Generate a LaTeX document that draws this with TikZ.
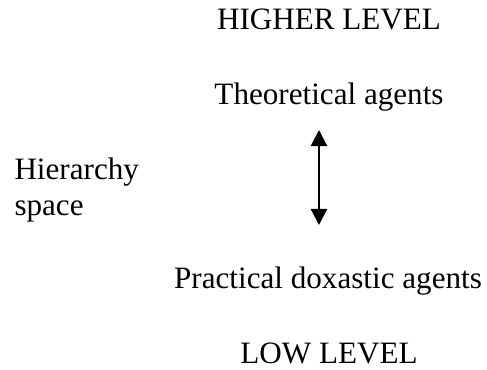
\documentclass[tikz,border=0pt]{standalone}
\usepackage{fontspec}
\setmainfont{Liberation Serif}
\usetikzlibrary{arrows.meta}

\begin{document}
\begin{tikzpicture}[scale=0.14, font=\fontsize{12.4}{14.7}\selectfont, every node/.style={inner sep=0pt}]

\useasboundingbox (0,0) rectangle (48.7,37);

% Level labels
\node[anchor=base] (high) at (32.9,34.0) {HIGHER LEVEL};
\node[anchor=base] (low) at (32.9,0.6) {LOW LEVEL};

% Agents
\node[anchor=base] (theo) at (32.9,26.5) {Theoretical agents};
\node[anchor=base] (prac) at (32.8,8.1) {Practical doxastic agents};

% Hierarchy label
\node[anchor=base west, align=left] (hier) at (1.4,15.4) {Hierarchy\\space};

% Double arrow
\coordinate (up) at (31.9,24.0);
\coordinate (down) at (31.9,14.5);
\draw[line width=0.9pt, {Triangle[length=6.4pt,width=6.4pt]}-{Triangle[length=6.4pt,width=6.4pt]}] (up) -- (down);

\end{tikzpicture}
\end{document}
